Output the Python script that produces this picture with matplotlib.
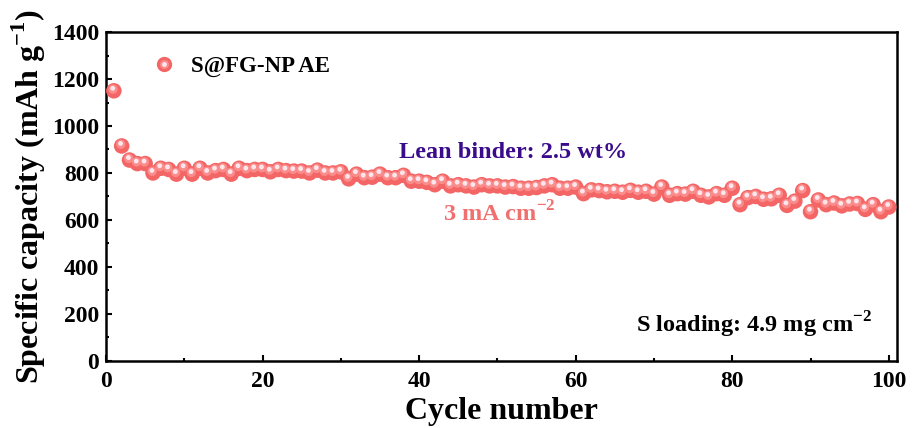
import matplotlib
matplotlib.use('Agg')
import matplotlib.pyplot as plt
from matplotlib.lines import Line2D
from matplotlib.legend_handler import HandlerTuple
from matplotlib.ticker import MultipleLocator
import matplotlib.transforms as mtransforms
import numpy as np

plt.rcParams['font.family'] = ['Liberation Serif', 'DejaVu Serif']
plt.rcParams['font.weight'] = 'bold'
plt.rcParams['mathtext.fontset'] = 'custom'
plt.rcParams['mathtext.bf'] = 'Liberation Serif:bold'
plt.rcParams['mathtext.rm'] = 'Liberation Serif:bold'

# discharge capacity per cycle
cycles = np.arange(1, 101)
capacity = [
    1150, 915, 855, 840, 840, 800, 820, 815, 795, 820,
    795, 820, 800, 810, 815, 795, 820, 810, 815, 815,
    805, 815, 810, 808, 808, 800, 812, 800, 800, 805,
    775, 795, 780, 782, 795, 780, 780, 790, 765, 765,
    760, 750, 765, 745, 750, 745, 740, 750, 745, 745,
    740, 742, 735, 735, 738, 745, 750, 735, 735, 740,
    712, 728, 725, 720, 722, 718, 726, 718, 722, 710,
    740, 705, 712, 710, 722, 705, 698, 712, 705, 735,
    665, 695, 700, 688, 690, 705, 662, 680, 725, 635,
    685, 665, 672, 660, 668, 670, 645, 665, 635, 655,
]

series_label = 'S@FG-NP AE'
binder_text = 'Lean binder: 2.5 wt%'
rate_text = '3 mA cm$^{\\mathbf{-2}}$'
loading_text = 'S loading: 4.9 mg cm$^{\\mathbf{-2}}$'

base_c = '#F46666'
mid_c = '#FA8C8C'
hi_c = '#FFE6EC'

fig = plt.figure(figsize=(9.14, 4.28), dpi=100)
ax = fig.add_axes([0.116, 0.157, 0.865, 0.768])

# spheres: base disc plus two lighter offset layers for the shine
ax.scatter(cycles, capacity, s=125, color=base_c, edgecolors='none', zorder=3)
off1 = mtransforms.offset_copy(ax.transData, fig=fig, x=-0.6, y=1.2, units='points')
ax.scatter(cycles, capacity, s=45, color=mid_c, edgecolors='none', zorder=4, transform=off1)
off2 = mtransforms.offset_copy(ax.transData, fig=fig, x=-0.8, y=1.8, units='points')
ax.scatter(cycles, capacity, s=12, color=hi_c, edgecolors='none', zorder=5, transform=off2)

ax.set_xlim(0, 101)
ax.set_ylim(0, 1400)
ax.xaxis.set_major_locator(MultipleLocator(20))
ax.xaxis.set_minor_locator(MultipleLocator(10))
ax.yaxis.set_major_locator(MultipleLocator(200))
ax.yaxis.set_minor_locator(MultipleLocator(100))
ax.tick_params(which='both', direction='in', width=1.5, labelsize=17)
ax.tick_params(which='major', length=4, pad=5)
ax.tick_params(axis='x', which='major', pad=7)
ax.tick_params(which='minor', length=2.5)
for sp in ax.spines.values():
    sp.set_linewidth(1.8)

ax.set_xlabel('Cycle number', fontsize=23, fontweight='bold', labelpad=4)
ax.set_ylabel('Specific capacity (mAh g$^{\\mathbf{-1}}$)', fontsize=23,
              fontweight='bold', labelpad=3)

h_base = Line2D([], [], ls='none', marker='o', ms=11, color=base_c, mec='none')
h_mid = Line2D([], [], ls='none', marker='o', ms=6.5, color=mid_c, mec='none')
h_hi = Line2D([], [], ls='none', marker='o', ms=3.5, color=hi_c, mec='none')
ax.legend([(h_base, h_mid, h_hi)], [series_label], handler_map={tuple: HandlerTuple(ndivide=1)},
          loc='upper left', bbox_to_anchor=(0.018, 0.99), frameon=False,
          prop={'size': 16.5, 'weight': 'bold'}, handletextpad=0.2)

ax.text(0.515, 0.635, binder_text, transform=ax.transAxes, ha='center', va='center',
        fontsize=17.5, fontweight='bold', color='#3A0C8C')
ax.text(0.498, 0.447, rate_text, transform=ax.transAxes, ha='center', va='center',
        fontsize=17.5, fontweight='bold', color='#F07070')
ax.text(0.82, 0.109, loading_text, transform=ax.transAxes, ha='center', va='center',
        fontsize=17.5, fontweight='bold', color='black')

fig.savefig('out.png', dpi=100)
